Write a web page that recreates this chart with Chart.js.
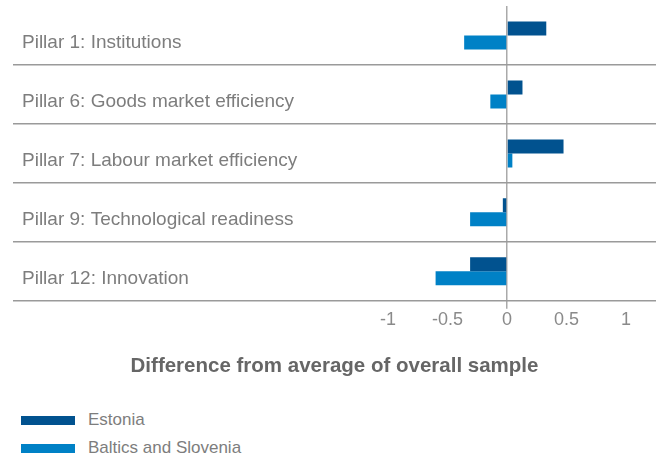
<!DOCTYPE html>
<html>
<head>
<meta charset="utf-8">
<script src="https://cdn.jsdelivr.net/npm/chart.js@4"></script>
<style>
  body { margin: 0; background: #fff; }
  #wrap { position: relative; width: 662px; height: 455px; font-family: "Liberation Sans", Arial, sans-serif; }
  #chartBox { position: absolute; left: 0; top: 0; width: 662px; height: 392px; }
  .leg { position: absolute; left: 21px; height: 20px; display: flex; align-items: center; color: #7d7d7d; font-size: 17px; }
  .leg span.box { display: inline-block; width: 54px; height: 9px; margin-right: 13px; }
</style>
</head>
<body>
<div id="wrap">
  <div id="chartBox"><canvas id="pillarChart"></canvas></div>
  <div id="legend"></div>
</div>
<script>
const pillars = [
  'Pillar 1: Institutions',
  'Pillar 6: Goods market efficiency',
  'Pillar 7: Labour market efficiency',
  'Pillar 9: Technological readiness',
  'Pillar 12: Innovation'
];
const estonia = [0.33, 0.13, 0.475, -0.035, -0.31];
const balticsSlovenia = [-0.36, -0.14, 0.045, -0.31, -0.6];
const xTicks = [-1, -0.5, 0, 0.5, 1];

const colEstonia = '#01528f';
const colBaltics = '#0081c6';

document.addEventListener("DOMContentLoaded", () => {
    const ctx = document.getElementById('pillarChart').getContext('2d');

    const data = {
        labels: pillars,
        datasets: [
        {
            label: 'Estonia',
            data: estonia,
            backgroundColor: colEstonia,
            borderWidth: 0,
            barPercentage: 1,
            categoryPercentage: 0.475
        },
        {
            label: 'Baltics and Slovenia',
            data: balticsSlovenia,
            backgroundColor: colBaltics,
            borderWidth: 0,
            barPercentage: 1,
            categoryPercentage: 0.475
        }
        ]
    };

    const config = {
        type: 'bar',
        data: data,
        options: {
            indexAxis: 'y',
            responsive: true,
            maintainAspectRatio: false,
            animation: false,
            layout: {
                padding: { left: 13, right: 6, top: 6, bottom: 0 }
            },
            plugins: {
                legend: { display: false },
                tooltip: { enabled: false }
            },
            scales: {
                x: {
                    type: 'linear',
                    min: -4.151,
                    max: 1.252,
                    afterBuildTicks: axis => {
                        axis.ticks = xTicks.map(v => ({ value: v }));
                    },
                    ticks: {
                        autoSkip: false,
                        maxRotation: 0,
                        padding: 0,
                        color: '#8a8a8a',
                        font: { family: 'Liberation Sans', size: 18 },
                        callback: v => String(v)
                    },
                    grid: {
                        // only the zero line is visible
                        color: c => (c.tick && c.tick.value === 0) ? '#aaaaaa' : 'transparent',
                        lineWidth: 1.5,
                        tickLength: 8
                    },
                    border: { display: false },
                    title: {
                        display: true,
                        text: 'Difference from average of overall sample',
                        color: '#666666',
                        font: { family: 'Liberation Sans', size: 20.5, weight: 'bold' },
                        padding: { top: 24, bottom: 13 }
                    }
                },
                y: {
                    // labels sit inside the plot, so the axis takes no room
                    afterFit: s => {
                        s.width = 0;
                        s.paddingTop = 0;
                        s.paddingBottom = 0;
                    },
                    ticks: {
                        mirror: true,
                        padding: 9,
                        labelOffset: 7,
                        color: '#7d7d7d',
                        font: { family: 'Liberation Sans', size: 19 }
                    },
                    grid: {
                        offset: true,
                        drawTicks: false,
                        color: c => c.index === 0 ? 'transparent' : '#9a9a9a',
                        lineWidth: 1.5
                    },
                    border: { display: false }
                }
            }
        }
    };
    const pillarChart = new Chart(ctx, config);

    // legend stacked under the chart
    const legend = document.getElementById('legend');
    const legTops = [410, 438];
    pillarChart.data.datasets.forEach((ds, i) => {
        const item = document.createElement('div');
        item.className = 'leg';
        item.style.top = legTops[i] + 'px';
        item.innerHTML = '<span class="box" style="background:' + ds.backgroundColor + '"></span>' + ds.label;
        legend.appendChild(item);
    });
});
</script>
</body>
</html>
